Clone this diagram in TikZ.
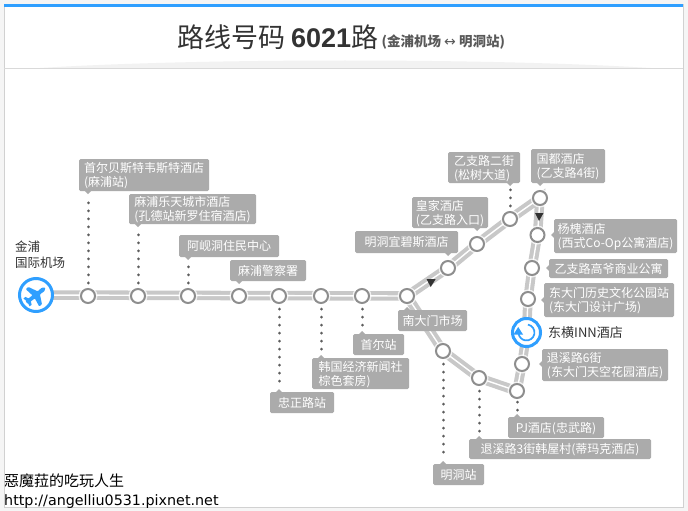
\documentclass[tikz,border=0pt]{standalone}
\usepackage{fontspec}
\setmainfont{Noto Sans CJK SC}
\newfontfamily\latinbold{Liberation Sans}
\newfontfamily\footlatin{DejaVu Sans}
\usetikzlibrary{calc}
\definecolor{boxgray}{HTML}{ABABAB}
\definecolor{trackgray}{HTML}{C8C8C8}
\definecolor{ringgray}{HTML}{8E8E8E}
\definecolor{dotgray}{HTML}{5E5E5E}
\definecolor{bluemark}{HTML}{2F9FFF}
\definecolor{textdark}{HTML}{333333}
\tikzset{
  x=1pt,y=-1pt,
  track/.style={line width=9.5pt,trackgray,line cap=butt},
  trackmid/.style={line width=1.4pt,white,line cap=butt},
  stop/.style={circle,draw=ringgray,line width=2pt,fill=white,minimum size=14pt,inner sep=0pt},
  halo/.style={circle,fill=white,fill opacity=.75,minimum size=19pt,inner sep=0pt},
  lab/.style={fill=boxgray,rounded corners=1.5pt,inner sep=0pt,text=white,font=\fontsize{12}{13.5}\selectfont},
  ptr/.style={fill=boxgray},
  leader/.style={dotgray,line width=3pt,line cap=round,dash pattern=on 0.01pt off 8pt},
  dirmark/.style={fill=black!80},
}
\newcommand{\labbox}[6]{\node[lab,minimum width={#4-#2},minimum height={#5-#3}] (#1) at ({(#2+#4)/2},{(#3+#5)/2}) {\raisebox{-1.8pt}[\height][\depth]{\begin{tabular}{@{}l@{}}#6\end{tabular}}};}
\begin{document}
\begin{tikzpicture}
\useasboundingbox (0,0) rectangle (688,511);
% page and frame
\fill[black!4] (0,0) rectangle (688,511);
\fill[white] (4,4) rectangle (683,507);
\draw[black!18,line width=.8pt] (4,4) -- (4,507) -- (683,507) -- (683,4);
\fill[bluemark] (4,4) rectangle (683,7);
\fill[black!5] (40,68) .. controls (200,58) and (490,58) .. (650,68) -- cycle;
\draw[black!15,line width=1pt] (4,68.5) -- (683,68.5);
% title
\node[text=textdark,font=\fontsize{27}{30}\selectfont,anchor=base west,inner sep=0pt] (titlea) at (177.5,47.5) {路线号码};
\node[text=textdark,font=\fontsize{27}{30}\selectfont\latinbold\bfseries,anchor=base west,inner sep=0pt] (titleb) at (291,47.5) {6021};
\node[text=textdark,font=\fontsize{27}{30}\selectfont,anchor=base west,inner sep=0pt] (titlec) at (351,47.5) {路};
\node[text=black!65,font=\fontsize{13.5}{15}\selectfont\bfseries,anchor=base west,inner sep=0pt] (titled) at (381.5,47) {(金浦机场 {\footlatin\mdseries\fontsize{14}{15}\selectfont ↔} 明洞站)};
% station coordinates
\coordinate (air) at (36,295);
\coordinate (s1) at (88,296);
\coordinate (s2) at (138,296);
\coordinate (s3) at (188,296);
\coordinate (s4) at (239,296);
\coordinate (s5) at (279,296);
\coordinate (s6) at (321,296);
\coordinate (s7) at (362,296);
\coordinate (s8) at (407,296);
\coordinate (s9) at (448,268);
\coordinate (s10) at (477,244);
\coordinate (s11) at (510,219);
\coordinate (s12) at (540,198);
\coordinate (s13) at (537.5,235);
\coordinate (s14) at (532,268);
\coordinate (s15) at (528,299);
\coordinate (hub) at (526.5,332.5);
\coordinate (s16) at (522,364);
\coordinate (s17) at (517,391);
\coordinate (s18) at (479,378);
\coordinate (s19) at (443,351);
% track
\foreach \st in {track,trackmid}{
  \draw[\st] (air) -- (s8) -- (s9) -- (s10) -- (s11) -- (s12) -- (s13) -- (s14) -- (s15) -- (hub) -- (s16) -- (s17) -- (s18) -- (s19) -- (s8);
}
% direction marks
\fill[dirmark] (426.5,279) -- (435.7,279) -- (430.7,287) -- cycle;
\fill[dirmark] (535,213) -- (543.5,213) -- (539,221) -- cycle;
% labels
\labbox{l1}{79}{159}{209}{191}{首尔贝斯特韦斯特酒店\\(麻浦站)}
\labbox{l2}{129}{194}{256}{224}{麻浦乐天城市酒店\\(孔德站新罗住宿酒店)}
\labbox{l3}{179}{235}{279}{257}{阿岘洞住民中心}
\labbox{l4}{230}{260}{306}{281}{麻浦警察署}
\labbox{l5}{270}{392}{334}{413}{忠正路站}
\labbox{l6}{312}{358}{409}{389}{韩国经济新闻社\\棕色套房)}
\labbox{l7}{353}{334}{404}{355}{首尔站}
\labbox{l8}{398}{310}{467}{331}{南大门市场}
\labbox{l9}{355}{231}{458}{253}{明洞宜碧斯酒店}
\labbox{l10}{412}{197}{488}{228}{皇家酒店\\(乙支路入口)}
\labbox{l11}{448}{152}{520}{183}{乙支路二街\\(松树大道)}
\labbox{l12}{531}{149}{605}{183}{国都酒店\\(乙支路4街)}
\labbox{l13}{554}{219}{677}{253}{杨槐酒店\\(西式Co-Op公寓酒店)}
\labbox{l14}{549}{259}{668}{278}{乙支路高爷商业公寓}
\labbox{l15}{544}{283}{674}{317}{东大门历史文化公园站\\(东大门设计广场)}
\labbox{l16}{542}{349}{668}{381}{退溪路6街\\(东大门天空花园酒店)}
\labbox{l17}{508}{417}{604}{438}{PJ酒店(忠武路)}
\labbox{l18}{469}{439}{651}{459}{退溪路3街韩屋村(蒂玛克酒店)}
\labbox{l19}{433}{464}{484}{485}{明洞站}
% pointers on the boxes
\foreach \x/\y in {88/191,138/224,188/257,239/281,510/183,540/183,477/228,448/253}{
  \fill[ptr] (\x-3,\y) -- (\x+3,\y) -- (\x,\y+3) -- cycle;
}
\foreach \x/\y in {279/392,321/358,362/334,407/310,443/464,479/439,517/417}{
  \fill[ptr] (\x-3,\y) -- (\x+3,\y) -- (\x,\y-3) -- cycle;
}
\foreach \x/\y in {554/235,549/268,544/300,542/364}{
  \fill[ptr] (\x,\y-3) -- (\x,\y+3) -- (\x-3,\y) -- cycle;
}
% dotted leaders
\draw[leader] (88,283) -- (88,196);
\draw[leader] (138,283) -- (138,229);
\draw[leader] (188,283) -- (188,261);
\draw[leader] (510,206) -- (510,187);
\draw[leader] (279,309) -- (279,388);
\draw[leader] (321,309) -- (321,354);
\draw[leader] (362,309) -- (362,330);
\draw[leader] (443,364) -- (443,460);
\draw[leader] (479,391) -- (479,435);
\draw[leader] (517,402) -- (517,413);
% stations
\foreach \n in {1,...,19}{
  \node[halo] at (s\n) {};
  \node[stop] (st\n) at (s\n) {};
}
% airport
\node[circle,draw=bluemark,line width=3pt,fill=white,minimum size=33pt,inner sep=0pt] (airport) at (air) {};
\begin{scope}[shift={(36,295)},rotate=38]
\fill[bluemark,rounded corners=.8pt] (-12,-1.9) -- (-3,-1.9) -- (-4.5,-11) -- (-1,-11) -- (3.5,-1.9) -- (9,-2.2) -- (12,0) -- (9,2.2) -- (3.5,1.9) -- (-1,11) -- (-4.5,11) -- (-3,1.9) -- (-12,1.9) -- cycle;
\fill[bluemark] (-12,-5) -- (-9.5,-5) -- (-7,0) -- (-9.5,5) -- (-12,5) -- (-11,0) -- cycle;
\end{scope}
% hub
\node[circle,draw=bluemark,line width=3pt,fill=white,minimum size=28pt,inner sep=0pt] (hubc) at (hub) {};
\draw[bluemark,line width=1.7pt] (527.9,324.6) arc[start angle=-80,end angle=175,radius=8];
\fill[bluemark] (513.5,334.5) -- (523,334.5) -- (518.2,327) -- cycle;
% plain labels
\node[text=textdark,font=\fontsize{12.5}{16}\selectfont,align=left,anchor=north west,inner sep=0pt] (airtxt) at (15,241) {金浦\\国际机场};
\node[text=textdark,font=\fontsize{13}{15}\selectfont,anchor=west,inner sep=0pt] (hubtxt) at (548,333) {东横INN酒店};
% footer
\node[text=black,font=\fontsize{15}{17}\selectfont,anchor=base west,inner sep=0pt] (foot1) at (4,486) {惡魔菈的吃玩人生};
\node[text=black,font=\fontsize{14.3}{16}\selectfont\footlatin,anchor=base west,inner sep=0pt] (foot2) at (4,505) {http://angelliu0531.pixnet.net};
\end{tikzpicture}
\end{document}
